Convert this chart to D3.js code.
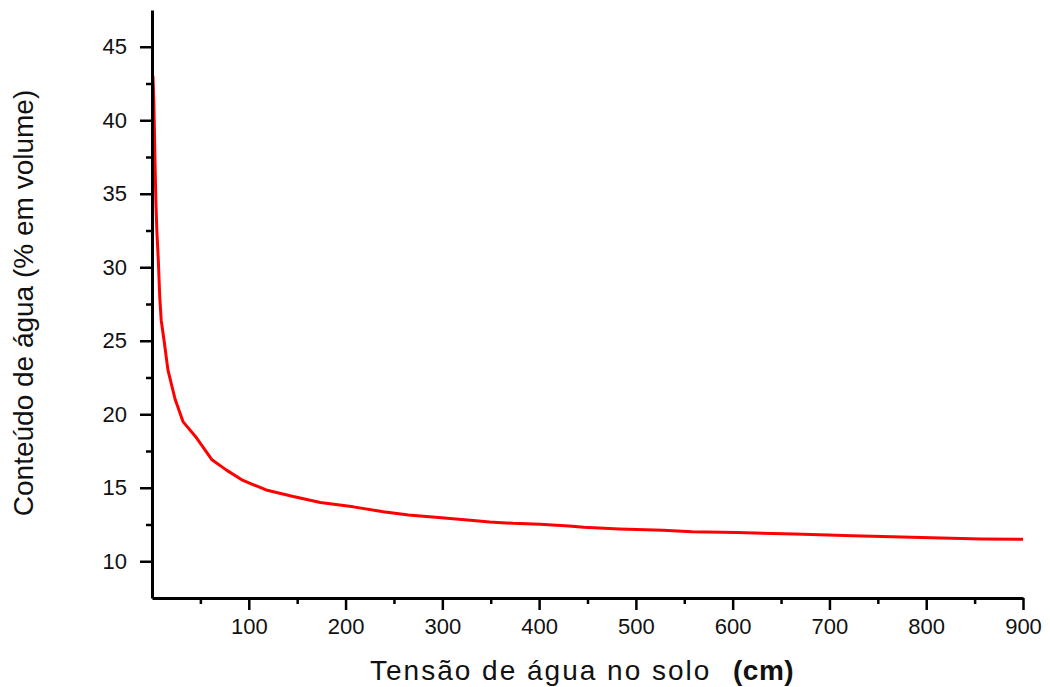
<!DOCTYPE html>
<html>
<head>
<meta charset="utf-8">
<script src="https://cdn.jsdelivr.net/npm/d3@7"></script>
<style>
  html, body { margin: 0; padding: 0; background: #fff; }
  svg { display: block; }
  text { font-family: "Liberation Sans", Arial, sans-serif; fill: #111; }
</style>
</head>
<body>
<svg id="chart" width="1050" height="687"></svg>
<script>
// Data
const tension = [1, 2, 3, 4, 5, 6.5, 8, 9.5, 12.5, 16.5, 24, 32, 46, 62, 77, 94, 118, 146, 174, 208, 239, 265, 296, 326, 349, 373, 401, 431, 446, 483, 528, 558, 604, 664, 724, 785, 857, 900];
const water   = [43, 41, 37.5, 34.5, 32.5, 30.5, 28, 26.4, 25, 23, 21, 19.5, 18.4, 16.9, 16.2, 15.5, 14.85, 14.4, 14.0, 13.7, 13.37, 13.15, 12.97, 12.81, 12.67, 12.58, 12.52, 12.40, 12.31, 12.2, 12.11, 12.01, 11.95, 11.86, 11.74, 11.63, 11.52, 11.5];
const xTicks = [100, 200, 300, 400, 500, 600, 700, 800, 900];
const xMinorTicks = [50, 150, 250, 350, 450, 550, 650, 750, 850];
const yTicks = [10, 15, 20, 25, 30, 35, 40, 45];
const yMinorTicks = [12.5, 17.5, 22.5, 27.5, 32.5, 37.5, 42.5];
const xTitle = "Tensão de água no solo";
const xUnit = "(cm)";
const yTitle = "Conteúdo de água (% em volume)";

const svg = d3.select("#chart");
const x = d3.scaleLinear().domain([0, 900]).range([152, 1023]);
const y = d3.scaleLinear().domain([7.5, 47.5]).range([598, 10]);

// curve
const pts = tension.map((t, i) => [t, water[i]]);
svg.append("path")
  .datum(pts)
  .attr("fill", "none")
  .attr("stroke", "#ff0000")
  .attr("stroke-width", 3)
  .attr("stroke-linejoin", "round")
  .attr("d", d3.line().x(d => x(d[0])).y(d => y(d[1])).curve(d3.curveLinear));

// X axis
const gx = svg.append("g").attr("transform", `translate(0,${y(7.5)})`);
gx.call(d3.axisBottom(x).tickValues(xTicks).tickSize(12).tickPadding(8).tickSizeOuter(0));
gx.append("g").call(d3.axisBottom(x).tickValues(xMinorTicks).tickSize(6).tickFormat("").tickSizeOuter(0))
  .select(".domain").remove();

// Y axis
const gy = svg.append("g").attr("transform", `translate(${x(0)},0)`);
gy.call(d3.axisLeft(y).tickValues(yTicks).tickSize(12).tickPadding(13).tickSizeOuter(0));
gy.append("g").call(d3.axisLeft(y).tickValues(yMinorTicks).tickSize(6).tickFormat("").tickSizeOuter(0))
  .select(".domain").remove();

svg.selectAll(".domain").attr("stroke", "#000").attr("stroke-width", 3);
svg.selectAll(".tick line").attr("stroke", "#000").attr("stroke-width", 2.5);
svg.selectAll(".tick text")
  .attr("font-family", "'Liberation Sans', Arial, sans-serif")
  .attr("font-size", 22)
  .attr("fill", "#1a1a1a");

// X title
svg.append("text")
  .attr("x", 370).attr("y", 680)
  .attr("font-size", 28)
  .style("letter-spacing", "2px")
  .text(xTitle);
svg.append("text")
  .attr("x", 733).attr("y", 680)
  .attr("font-size", 28)
  .attr("font-weight", "bold")
  .attr("fill", "#222")
  .style("letter-spacing", "0.5px")
  .text(xUnit);

// Y title
svg.append("text")
  .attr("transform", `translate(33,303) rotate(-90)`)
  .attr("text-anchor", "middle")
  .attr("font-size", 28)
  .text(yTitle);
</script>
</body>
</html>
